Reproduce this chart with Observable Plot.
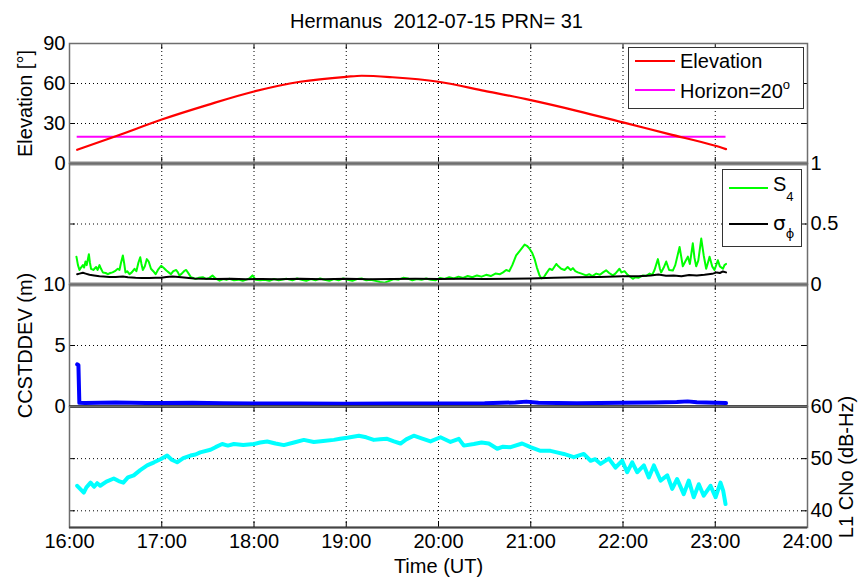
<!DOCTYPE html>
<html>
<head>
<meta charset="utf-8">
<script src="https://cdn.jsdelivr.net/npm/d3@7"></script>
<script src="https://cdn.jsdelivr.net/npm/@observablehq/plot@0.6"></script>
<style>
  body { margin: 0; background: #fff; }
  #chart { width: 858px; height: 579px; overflow: hidden; background: #fff; }
</style>
</head>
<body>
<div id="chart"></div>
<script>
// ---- Pass header ----
const station = "Hermanus";
const passDate = "2012-07-15";
const prn = 31;

// ---- Time axis (hours UT) ----
const hourTicks = [16, 17, 18, 19, 20, 21, 22, 23, 24];
const hourLabels = ["16:00", "17:00", "18:00", "19:00", "20:00", "21:00", "22:00", "23:00", "24:00"];

// ---- Satellite elevation (minutes after 16:00 UT, degrees) ----
const elevMin = [5, 31, 60, 90, 120, 150, 180, 190, 210, 240, 270, 300, 330, 360, 390, 420, 427];
const elevDeg = [10.3, 20.8, 33, 44, 54, 61.3, 65, 65.8, 64.7, 61.3, 54.5, 47.5, 39.5, 30.8, 22, 13.3, 10.8];
const horizonDeg = 20;
const elevTicks = [0, 30, 60, 90];

// ---- Amplitude scintillation S4 ----
const s4Min = [4.5, 5.5, 6.5, 7.5, 8.7, 9.5, 10.4, 11.2, 12.6, 13.3, 14, 15.5, 17.3, 18.3, 19.5, 20.5, 21.7, 23.5, 25, 26.5,
  28, 29.5, 31.4, 32.5, 33.5, 34.7, 35.5, 36.4, 37.5, 39, 40.5, 42.3, 43.5, 44.8, 46, 46.8, 47.7, 49, 50.3, 51.5,
  53, 54.5, 56, 57.5, 59.6, 61, 63, 64.5, 66, 67.5, 69.4, 70.5, 71.5, 73, 74.5, 75.9, 77.5, 79, 80.5, 82,
  84, 86.7, 89, 91, 93, 95, 97.6, 100, 102, 104, 107, 110, 112.7, 115, 117, 119, 121, 124, 127, 130,
  133, 136, 138, 141, 145, 148, 151, 154, 157, 160, 163, 166, 169, 172, 175, 178, 181, 184, 187, 190,
  193, 196, 199, 202, 205, 208, 211, 214, 217, 220, 223, 226, 229, 232, 235, 238, 241, 244, 247, 250,
  253, 256, 259, 262, 265, 268, 271, 274, 277, 280, 282, 284, 286, 288, 290.5, 293, 296, 297.5, 299, 301,
  302.5, 304, 305.7, 307, 308.5, 310, 312.2, 314, 316.6, 318, 319.8, 322, 324, 326, 327.4, 329, 330.6, 333, 336, 338,
  340, 342.6, 345, 347, 349, 351, 353.4, 355, 357.7, 359, 361, 363, 366.4, 368, 370, 372.9, 375, 377.3, 379, 380.5,
  382.7, 384, 384.8, 386.5, 388.1, 390, 392.4, 394, 396.8, 398, 398.9, 400.5, 402.2, 403.5, 405.4, 406.5, 407.6, 409, 410.9, 412.5,
  414.1, 415, 416.3, 418, 419.5, 421.7, 423, 425, 426, 427];
const s4Val = [0.23, 0.16, 0.12, 0.14, 0.16, 0.14, 0.19, 0.16, 0.25, 0.18, 0.13, 0.12, 0.145, 0.12, 0.16, 0.13, 0.10, 0.095, 0.085, 0.095,
  0.10, 0.11, 0.13, 0.12, 0.18, 0.24, 0.18, 0.10, 0.11, 0.085, 0.10, 0.13, 0.11, 0.18, 0.225, 0.17, 0.12, 0.15, 0.21, 0.19,
  0.13, 0.11, 0.085, 0.12, 0.155, 0.14, 0.115, 0.10, 0.085, 0.11, 0.12, 0.10, 0.075, 0.09, 0.11, 0.12, 0.09, 0.06, 0.055, 0.045,
  0.055, 0.06, 0.045, 0.055, 0.075, 0.05, 0.032, 0.045, 0.038, 0.047, 0.035, 0.04, 0.03, 0.04, 0.05, 0.075, 0.04, 0.035, 0.04, 0.03,
  0.045, 0.035, 0.04, 0.047, 0.035, 0.05, 0.04, 0.03, 0.045, 0.035, 0.05, 0.04, 0.03, 0.045, 0.035, 0.05, 0.04, 0.03, 0.045, 0.05,
  0.035, 0.04, 0.03, 0.02, 0.015, 0.03, 0.045, 0.04, 0.055, 0.05, 0.035, 0.045, 0.04, 0.05, 0.04, 0.035, 0.055, 0.045, 0.06, 0.05,
  0.065, 0.055, 0.07, 0.06, 0.075, 0.065, 0.08, 0.07, 0.09, 0.085, 0.10, 0.12, 0.11, 0.16, 0.24, 0.28, 0.33, 0.32, 0.30, 0.26,
  0.21, 0.14, 0.075, 0.05, 0.06, 0.09, 0.13, 0.12, 0.17, 0.15, 0.13, 0.12, 0.145, 0.12, 0.135, 0.11, 0.10, 0.09, 0.075, 0.085,
  0.07, 0.09, 0.08, 0.10, 0.117, 0.095, 0.075, 0.09, 0.13, 0.10, 0.11, 0.08, 0.047, 0.06, 0.055, 0.075, 0.07, 0.09, 0.08, 0.12,
  0.21, 0.13, 0.10, 0.14, 0.19, 0.12, 0.115, 0.16, 0.31, 0.22, 0.15, 0.19, 0.23, 0.17, 0.34, 0.22, 0.15, 0.20, 0.38, 0.24,
  0.13, 0.17, 0.23, 0.15, 0.12, 0.20, 0.15, 0.13, 0.16, 0.17];

// ---- Phase scintillation sigma-phi ----
const sigMin = [5, 6.5, 8.7, 10.5, 13, 16, 19.5, 22, 26, 30, 34.7, 38, 43, 47, 52, 56, 59.6, 63, 67, 71, 76, 81, 87, 95, 105,
  115, 125, 135, 150, 165, 180, 195, 210, 225, 240, 255, 270, 286, 300, 315, 330, 345, 360, 370, 378, 383, 388, 393, 398, 403,
  408, 413, 418, 421, 423, 425, 427];
const sigVal = [0.085, 0.09, 0.097, 0.09, 0.08, 0.075, 0.069, 0.066, 0.061, 0.062, 0.067, 0.06, 0.056, 0.054, 0.053, 0.055, 0.056, 0.062, 0.067, 0.062, 0.056, 0.05, 0.047, 0.045, 0.047,
  0.043, 0.046, 0.044, 0.047, 0.043, 0.047, 0.044, 0.045, 0.047, 0.045, 0.047, 0.045, 0.047, 0.05, 0.055, 0.06, 0.063, 0.068, 0.068, 0.075, 0.082, 0.072, 0.075, 0.068, 0.078,
  0.075, 0.08, 0.088, 0.1, 0.095, 0.108, 0.1];
const scintTicks = [0, 0.5, 1];

// ---- Code-carrier standard deviation (m) ----
const ccMin = [5, 5.8, 6.4, 10, 20, 30, 40, 50, 60, 80, 100, 120, 150, 180, 210, 240, 270, 290, 297, 305, 330, 360, 380, 395, 402, 408, 420, 427];
const ccVal = [3.45, 3.4, 0.3, 0.28, 0.3, 0.32, 0.3, 0.29, 0.28, 0.3, 0.26, 0.24, 0.24, 0.23, 0.25, 0.24, 0.26, 0.33, 0.4, 0.3, 0.27, 0.3, 0.32, 0.36, 0.42, 0.34, 0.3, 0.28];
const ccTicks = [0, 5, 10];

// ---- L1 carrier-to-noise density (dB-Hz) ----
const cnoMin = [5, 9.3, 11, 13.7, 16, 18, 20, 24, 28.8, 32, 35, 38, 41.8, 46, 50.5, 55, 59.2, 63.5, 66.5, 70,
  74, 78.7, 82, 85, 91.7, 95, 99.3, 103, 106.9, 113, 119.9, 124, 128.6, 134, 139.4, 146, 152.4, 158.9, 165, 171.9,
  176, 180.6, 188.2, 193, 197.9, 202, 206.6, 211, 215.3, 219, 223.9, 229, 234.8, 241.3, 247.8, 253.2, 256.5, 263, 268, 272.7,
  278.2, 282, 286.9, 294.4, 299.8, 306.3, 312.8, 317, 321.5, 328, 334.5, 338.9, 342, 345.4, 350.8, 355.1, 359.5, 362.7, 366, 369.2,
  373.6, 376.8, 380.1, 384.4, 388.8, 392, 395.2, 399.5, 402.8, 406, 409.3, 412.5, 416.9, 420.2, 423.4, 425.2, 426.7];
const cnoVal = [44.8, 43.5, 44.5, 45.4, 44.6, 45.3, 44.8, 45.6, 46.2, 45.7, 45.4, 46.4, 46.8, 47.8, 48.7, 49.3, 49.9, 50.6, 49.8, 49.3,
  50.1, 50.6, 50.8, 51.2, 51.7, 52.2, 52.8, 52.5, 52.8, 52.6, 52.8, 53.1, 53.3, 52.9, 52.6, 53.1, 53.6, 53.2, 53.4, 53.6,
  53.8, 54.0, 54.4, 54.1, 53.6, 53.7, 53.8, 53.3, 52.9, 53.7, 54.4, 53.9, 53.3, 54.1, 53.2, 53.8, 52.5, 52.8, 53.1, 52.9,
  51.9, 52.3, 52.2, 52.9, 52.2, 51.5, 51.5, 51.2, 50.9, 50.3, 50.9, 49.6, 49.9, 49.0, 50.0, 48.3, 49.6, 47.4, 49.3, 47.4,
  48.7, 46.4, 48.7, 45.8, 46.8, 44.2, 46.1, 43.2, 45.8, 42.6, 45.1, 42.9, 44.8, 42.6, 45.4, 43.8, 41.3];
const cnoTicks = [40, 50, 60];
const cnoDomain = [36.8, 60];

// ---- Layout: four stacked panels sharing the time axis, all inside one outer SVG ----
const W = 858, H = 579;
const FONT = '"Liberation Sans", Arial, Helvetica, sans-serif';
const frameLeft = 69, frameRight = 807;
const panelEdges = [43, 163, 284, 406, 527];
const frameW = frameRight - frameLeft;
const tickLen = 6;
const hourLabel = (h) => hourLabels[hourTicks.indexOf(h)];
const series = (mins, vals) => mins.map((m, i) => ({h: 16 + m / 60, v: vals[i]}));
const interior = (arr) => arr.slice(1, -1);
const elevDomain = [0, 90], scintDomain = [0, 1], ccDomain = [0, 10];

const outer = d3.create("svg")
  .attr("width", W).attr("height", H).attr("viewBox", `0 0 ${W} ${H}`)
  .style("display", "block").style("background", "#fff").style("font-family", FONT);
document.getElementById("chart").appendChild(outer.node());

// One panel drawn by Plot with its own y scale, nested in the outer SVG
function layer(i, yDomain, marks) {
  const svg = Plot.plot({
    width: W, height: H,
    marginLeft: frameLeft, marginRight: W - frameRight,
    marginTop: panelEdges[i], marginBottom: H - panelEdges[i + 1],
    x: {domain: [16, 24], axis: null},
    y: {domain: yDomain, axis: null},
    style: `background: none; overflow: visible; font-size: 20px; font-family: ${FONT};`,
    marks
  });
  svg.setAttribute("x", 0);
  svg.setAttribute("y", 0);
  outer.node().appendChild(svg);
  return svg;
}

const yLabel = (text, anchor, dx) => Plot.text([text], {
  frameAnchor: anchor, rotate: -90, dx, textAnchor: "middle", lineAnchor: "middle", fontSize: 20, fill: "#000"
});

// Dotted grid, inward ticks on all four sides and the box of one panel
function decorations(i, yTicks) {
  const fh = panelEdges[i + 1] - panelEdges[i];
  const inner = interior(yTicks);
  return [
    Plot.ruleX(interior(hourTicks), {x: d => d, stroke: "#000", strokeDasharray: "1,3"}),
    Plot.ruleY(inner, {y: d => d, stroke: "#000", strokeDasharray: "1,3"}),
    Plot.ruleX(hourTicks, {x: d => d, stroke: "#000", insetTop: fh - tickLen}),
    Plot.ruleX(hourTicks, {x: d => d, stroke: "#000", insetBottom: fh - tickLen}),
    Plot.ruleY(inner, {y: d => d, stroke: "#000", insetRight: frameW - tickLen}),
    Plot.ruleY(inner, {y: d => d, stroke: "#000", insetLeft: frameW - tickLen}),
    Plot.frame({stroke: "#6e6e6e", strokeWidth: 1.5})
  ];
}

// Panel 1: elevation
layer(0, elevDomain, [
  ...decorations(0, elevTicks),
  Plot.ruleY([horizonDeg], {x1: 16 + elevMin[0] / 60, x2: 16 + elevMin[elevMin.length - 1] / 60, stroke: "#ff00ff", strokeWidth: 2}),
  Plot.line(series(elevMin, elevDeg), {x: "h", y: "v", stroke: "#ff0000", strokeWidth: 2.2, curve: "monotone-x"}),
  Plot.ruleY([elevDomain[0]], {stroke: "#888", strokeWidth: 4}),
  Plot.axisY(elevTicks, {anchor: "left", tickSize: 0, tickPadding: 4, tickFormat: d => String(d), label: null}),
  yLabel("Elevation [°]", "left", -44),
  Plot.text([`${station}\u00a0 ${passDate} PRN= ${prn}`], {frameAnchor: "top", dy: -16, dx: -2, lineAnchor: "bottom", fontSize: 20, fill: "#000"})
]);

// Panel 2: S4 and sigma-phi
layer(1, scintDomain, [
  ...decorations(1, scintTicks),
  Plot.line(series(s4Min, s4Val), {x: "h", y: "v", stroke: "#00ff00", strokeWidth: 2}),
  Plot.line(series(sigMin, sigVal), {x: "h", y: "v", stroke: "#000", strokeWidth: 2}),
  Plot.ruleY([scintDomain[0]], {stroke: "#888", strokeWidth: 4}),
  Plot.axisY(scintTicks, {anchor: "right", tickSize: 0, tickPadding: 3, tickFormat: d => String(d), label: null})
]);

// Panel 3: CCSTDDEV
layer(2, ccDomain, [
  ...decorations(2, ccTicks),
  Plot.line(series(ccMin, ccVal), {x: "h", y: "v", stroke: "#0000ff", strokeWidth: 4}),
  Plot.ruleY([ccDomain[0]], {stroke: "#111", strokeWidth: 2.5}),
  Plot.axisY(ccTicks, {anchor: "left", tickSize: 0, tickPadding: 4, tickFormat: d => String(d), label: null}),
  yLabel("CCSTDDEV (m)", "left", -44)
]);

// Panel 4: L1 C/No with the shared time axis
layer(3, cnoDomain, [
  ...decorations(3, [cnoDomain[0], ...cnoTicks.slice(0, -1), cnoDomain[1]]),
  Plot.line(series(cnoMin, cnoVal), {x: "h", y: "v", stroke: "#00ffff", strokeWidth: 4}),
  Plot.ruleY([cnoDomain[0]], {stroke: "#444", strokeWidth: 2}),
  Plot.axisY(cnoTicks, {anchor: "right", tickSize: 0, tickPadding: 3, tickFormat: d => String(d), label: null}),
  Plot.axisX(hourTicks, {anchor: "bottom", tickSize: 0, tickPadding: 6, tickFormat: hourLabel, label: null}),
  yLabel("L1 CNo (dB-Hz)", "right", 39),
  Plot.text(["Time (UT)"], {frameAnchor: "bottom", dy: 45, lineAnchor: "bottom", fontSize: 20, fill: "#000"})
]);

// Legend boxes
function legend(box, items) {
  const g = outer.append("g");
  g.append("rect").attr("x", box.x + 0.5).attr("y", box.y + 0.5).attr("width", box.w - 1).attr("height", box.h - 1)
    .attr("fill", "#fff").attr("stroke", "#333");
  for (const it of items) {
    g.append("line").attr("x1", it.x1).attr("x2", it.x2).attr("y1", it.y).attr("y2", it.y)
      .attr("stroke", it.color).attr("stroke-width", 2);
    const t = g.append("text").attr("x", it.tx).attr("y", it.baseline).attr("font-size", 20).attr("fill", "#000");
    if (it.font) t.attr("font-family", it.font);
    t.append("tspan").text(it.main);
    if (it.small) t.append("tspan").attr("font-size", 13).attr("dy", it.shift).text(it.small);
  }
}

legend({x: 628, y: 47, w: 176, h: 62}, [
  {x1: 635, x2: 675, y: 61, color: "#ff0000", tx: 680, baseline: 68, main: "Elevation"},
  {x1: 635, x2: 675, y: 90, color: "#ff00ff", tx: 680, baseline: 98, main: `Horizon=${horizonDeg}`, small: "o", shift: -9}
]);
legend({x: 722, y: 169, w: 80, h: 78}, [
  {x1: 729, x2: 768, y: 188, color: "#00ff00", tx: 773, baseline: 191, main: "S", small: "4", shift: 10},
  {x1: 729, x2: 768, y: 224, color: "#000000", tx: 773, baseline: 230, main: "σ", small: "ϕ", shift: 8, font: '"DejaVu Sans", sans-serif'}
]);
</script>
</body>
</html>
